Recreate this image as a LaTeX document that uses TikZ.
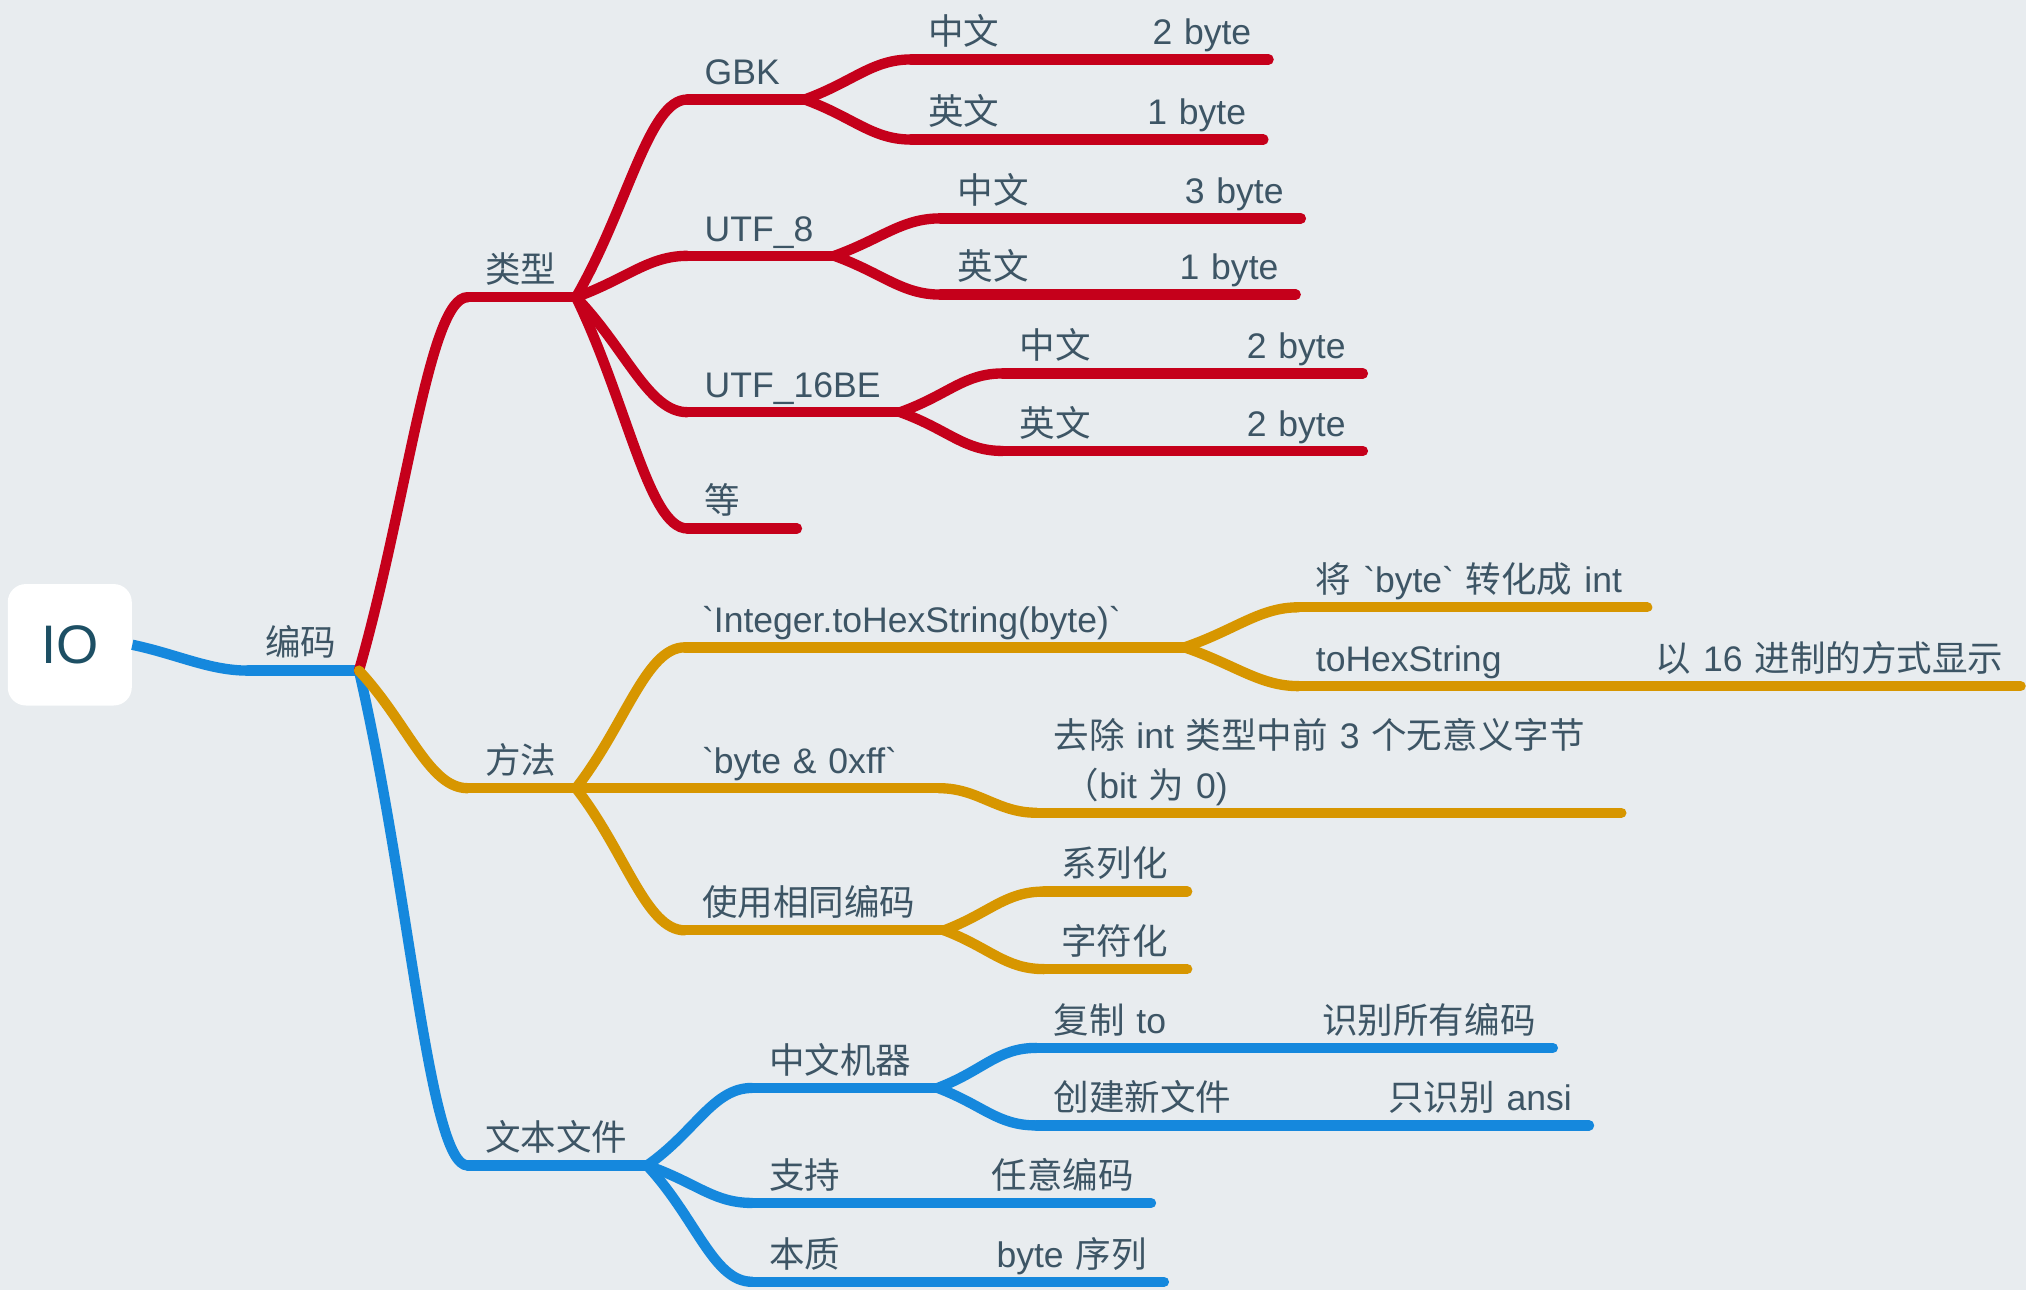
\documentclass[tikz,border=0pt]{standalone}
\usepackage{fontspec}
\setmainfont{Liberation Sans}[Ligatures=TeXOff]
\newfontfamily\cjk{Noto Sans CJK SC}

\definecolor{canvas}{HTML}{E8ECEF}
\definecolor{ink}{HTML}{3D5565}
\definecolor{rootink}{HTML}{1D4F64}
\definecolor{redline}{HTML}{C5001B}
\definecolor{orangeline}{HTML}{D79600}
\definecolor{blueline}{HTML}{1588DD}
\newcommand{\spread}{\hskip 0pt plus 1filll}

\begin{document}
\begin{tikzpicture}[x=0.5pt, y=-0.5pt,
  root/.style={fill=white, rounded corners=7pt, minimum width=48pt, minimum height=47pt,
    inner sep=0pt, text=rootink, font=\fontsize{21pt}{21pt}\selectfont},
  topic/.style={anchor=south west, inner xsep=6.5pt, inner ysep=0pt, text height=10pt,
    text depth=5.5pt, text=ink, font=\fontsize{13.75pt}{19pt}\selectfont},
  redbranch/.style={draw=redline, line width=4pt, line cap=round},
  orangebranch/.style={draw=orangeline, line width=4pt, line cap=round},
  bluebranch/.style={draw=blueline, line width=4pt, line cap=round},
  joint/.style={in=180, in distance=15pt}]

  \useasboundingbox (0,0) rectangle (1568,998);
  \fill[canvas] (0,0) rectangle (1568,998);

  % root and first level
  \node[root] (io) at (54,499) {IO};
  \node[topic, text width=29.5pt] (bianma) at (192,519) {{\cjk 编码}};

  % second level
  \node[topic, text width=28.5pt] (leixing) at (362,230) {{\cjk 类型}};
  \node[topic, text width=28.5pt] (fangfa) at (362,610) {{\cjk 方法}};
  \node[topic, text width=56pt] (wenben) at (362,902) {{\cjk 文本文件}};

  % encodings
  \node[topic, text width=32pt] (gbk) at (532,77) {GBK};
  \node[topic, text width=43.5pt] (utf8) at (532,198) {UTF\_8};
  \node[topic, text width=69pt] (utf16) at (532,319) {UTF\_16BE};
  \node[topic, text width=29pt] (deng) at (532,409) {{\cjk 等}};

  \node[topic, text width=125pt] (gbk-zh) at (705,46) {{\cjk 中文}\spread 2 byte};
  \node[topic, text width=123pt] (gbk-en) at (705,108) {{\cjk 英文}\spread 1 byte};
  \node[topic, text width=126pt] (utf8-zh) at (728,169) {{\cjk 中文}\spread 3 byte};
  \node[topic, text width=124pt] (utf8-en) at (728,228) {{\cjk 英文}\spread 1 byte};
  \node[topic, text width=126pt] (utf16-zh) at (776,289) {{\cjk 中文}\spread 2 byte};
  \node[topic, text width=126pt] (utf16-en) at (776,349) {{\cjk 英文}\spread 2 byte};

  % methods
  \node[topic, text width=180pt] (tohex) at (530,501) {`Integer.toHexString(byte)`};
  \node[topic, text width=85pt] (andff) at (530,610) {`byte \& 0xff`};
  \node[topic, text width=87pt] (xiangtong) at (530,720) {{\cjk 使用相同编码}};

  \node[topic, text width=121.5pt] (zhuanhua) at (1005,470) {{\cjk 将} `byte` {\cjk 转化成} int};
  \node[topic, text width=266pt] (xianshi) at (1005,531) {toHexString\spread{\cjk 以} 16 {\cjk 进制的方式显示}};
  \node[topic, text width=213pt, text depth=24.5pt] (quchu) at (802,629)
    {{\cjk 去除} int {\cjk 类型中前} 3 {\cjk 个无意义字节}\\\hspace*{4pt}{\cjk （}bit {\cjk 为} 0)};
  \node[topic, text width=42pt] (xilie) at (808,690) {{\cjk 系列化}};
  \node[topic, text width=42pt] (zifu) at (808,750) {{\cjk 字符化}};

  % text files
  \node[topic, text width=58.5pt] (jiqi) at (582,842) {{\cjk 中文机器}};
  \node[topic, text width=141pt] (zhichi) at (582,931) {{\cjk 支持}\spread{\cjk 任意编码}};
  \node[topic, text width=146pt] (benzhi) at (582,992) {{\cjk 本质}\spread byte {\cjk 序列}};
  \node[topic, text width=186.5pt] (fuzhi) at (802,811) {{\cjk 复制} to\spread{\cjk 识别所有编码}};
  \node[topic, text width=200.5pt] (chuangjian) at (802,871) {{\cjk 创建新文件}\spread{\cjk 只识别} ansi};

  % underlines
  \foreach \n in {bianma, wenben, jiqi, zhichi, benzhi, fuzhi, chuangjian}
    \draw[bluebranch] (\n.south west) -- (\n.south east);
  \foreach \n in {leixing, gbk, utf8, utf16, deng, gbk-zh, gbk-en, utf8-zh, utf8-en, utf16-zh, utf16-en}
    \draw[redbranch] (\n.south west) -- (\n.south east);
  \foreach \n in {fangfa, tohex, andff, xiangtong, zhuanhua, xianshi, quchu, xilie, zifu}
    \draw[orangebranch] (\n.south west) -- (\n.south east);

  % connectors
  \draw[bluebranch, line cap=butt] (io.east) to[joint, out=-12, out distance=18pt] (bianma.south west);
  \draw[bluebranch] (bianma.south east) to[joint, out=-77, out distance=88pt] (wenben.south west);
  \draw[bluebranch] (wenben.south east) to[joint, out=35, out distance=23pt] (jiqi.south west);
  \draw[bluebranch] (wenben.south east) to[joint, out=-19, out distance=20pt] (zhichi.south west);
  \draw[bluebranch] (wenben.south east) to[joint, out=-47, out distance=28pt] (benzhi.south west);
  \draw[bluebranch] (jiqi.south east) to[joint, out=21, out distance=19pt] (fuzhi.south west);
  \draw[bluebranch] (jiqi.south east) to[joint, out=-21, out distance=19pt] (chuangjian.south west);

  \draw[redbranch] (bianma.south east) to[joint, out=74, out distance=68pt] (leixing.south west);
  \draw[redbranch] (leixing.south east) to[joint, out=60, out distance=40pt] (gbk.south west);
  \draw[redbranch] (leixing.south east) to[joint, out=20, out distance=21pt] (utf8.south west);
  \draw[redbranch] (leixing.south east) to[joint, out=-46, out distance=28pt] (utf16.south west);
  \draw[redbranch] (leixing.south east) to[joint, out=-64, out distance=45pt] (deng.south west);
  \draw[redbranch] (gbk.south east) to[joint, out=20, out distance=20pt] (gbk-zh.south west);
  \draw[redbranch] (gbk.south east) to[joint, out=-20, out distance=20pt] (gbk-en.south west);
  \draw[redbranch] (utf8.south east) to[joint, out=20, out distance=20pt] (utf8-zh.south west);
  \draw[redbranch] (utf8.south east) to[joint, out=-20, out distance=20pt] (utf8-en.south west);
  \draw[redbranch] (utf16.south east) to[joint, out=20, out distance=20pt] (utf16-zh.south west);
  \draw[redbranch] (utf16.south east) to[joint, out=-20, out distance=20pt] (utf16-en.south west);

  \draw[orangebranch] (bianma.south east) to[joint, out=-47, out distance=28pt] (fangfa.south west);
  \draw[orangebranch] (fangfa.south east) to[joint, out=52, out distance=31pt] (tohex.south west);
  \draw[orangebranch] (fangfa.south east) -- (andff.south west);
  \draw[orangebranch] (fangfa.south east) to[joint, out=-52, out distance=31pt] (xiangtong.south west);
  \draw[orangebranch] (tohex.south east) to[joint, out=19, out distance=21pt] (zhuanhua.south west);
  \draw[orangebranch] (tohex.south east) to[joint, out=-19, out distance=21pt] (xianshi.south west);
  \draw[orangebranch] (andff.south east) to[out=0, in=180] (quchu.south west);
  \draw[orangebranch] (xiangtong.south east) to[joint, out=21, out distance=19pt] (xilie.south west);
  \draw[orangebranch] (xiangtong.south east) to[joint, out=-21, out distance=19pt] (zifu.south west);

\end{tikzpicture}
\end{document}
